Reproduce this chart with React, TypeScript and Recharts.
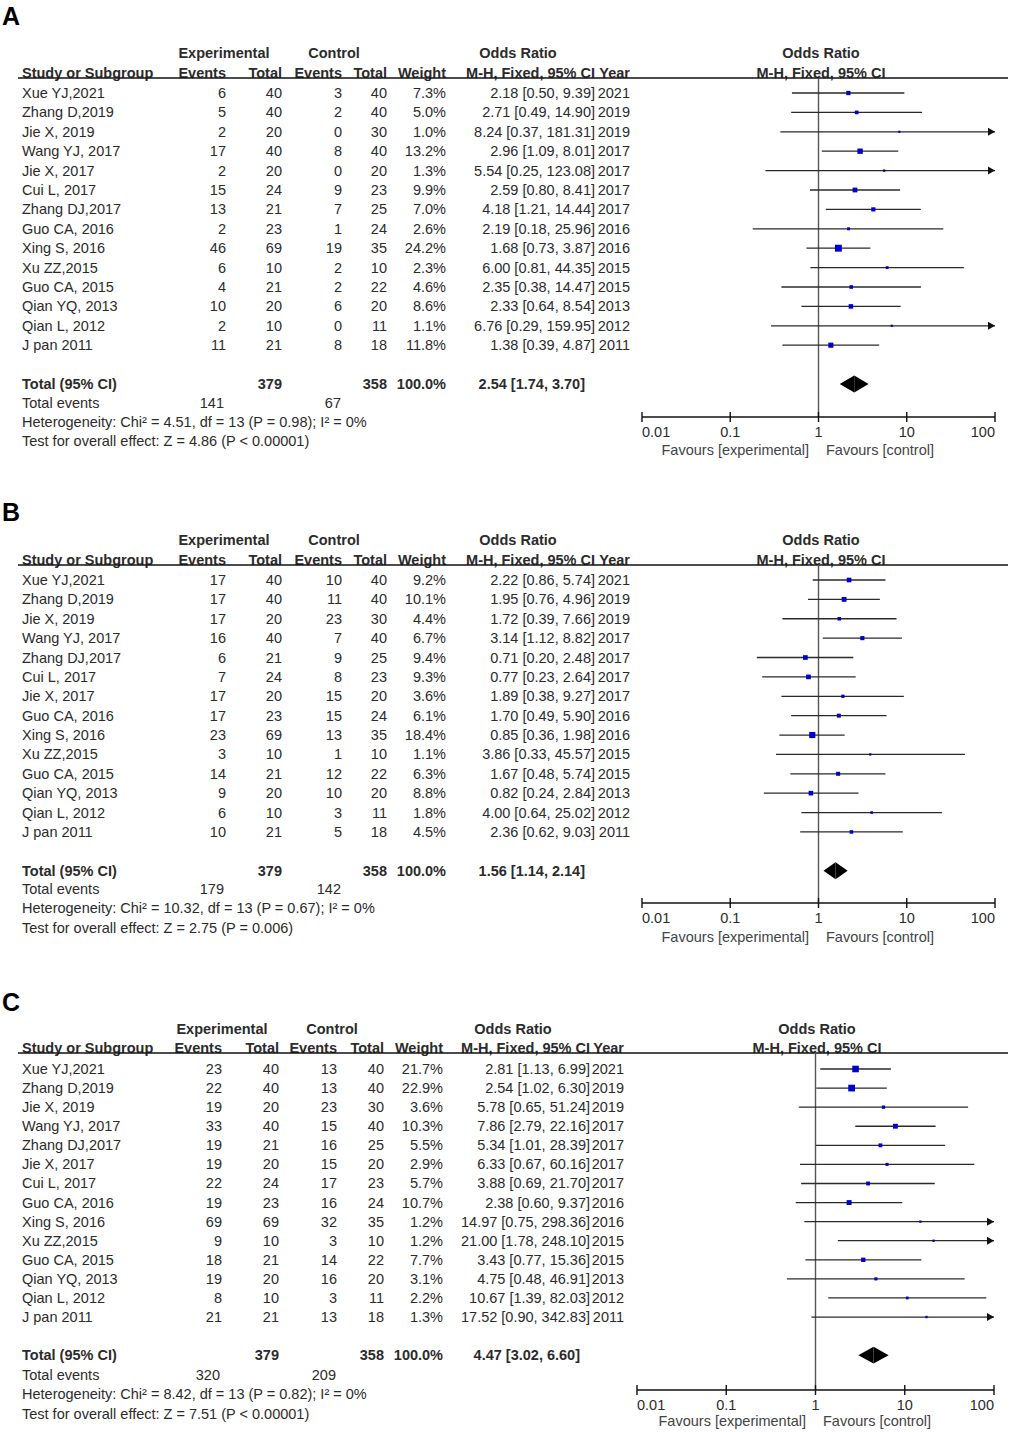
import React from 'react';
import { ScatterChart, Scatter, XAxis, YAxis, ReferenceLine, ReferenceArea } from 'recharts';

const FONT = '"Liberation Sans", Arial, Helvetica, sans-serif';
const TXT = '#2b2b2b';
const FS = 14.5;

// x axis of every forest plot
const xTicks = [0.01, 0.1, 1, 10, 100];
const xTickLabels = ['0.01', '0.1', '1', '10', '100'];

// ---------- panel A ----------
const studiesA = ['Xue YJ,2021', 'Zhang D,2019', 'Jie X, 2019', 'Wang YJ, 2017', 'Jie X, 2017', 'Cui L, 2017', 'Zhang DJ,2017', 'Guo CA, 2016', 'Xing S, 2016', 'Xu ZZ,2015', 'Guo CA, 2015', 'Qian YQ, 2013', 'Qian L, 2012', 'J pan 2011'];
const expEventsA = [6, 5, 2, 17, 2, 15, 13, 2, 46, 6, 4, 10, 2, 11];
const expTotalA = [40, 40, 20, 40, 20, 24, 21, 23, 69, 10, 21, 20, 10, 21];
const ctlEventsA = [3, 2, 0, 8, 0, 9, 7, 1, 19, 2, 2, 6, 0, 8];
const ctlTotalA = [40, 40, 30, 40, 20, 23, 25, 24, 35, 10, 22, 20, 11, 18];
const weightA = [7.3, 5.0, 1.0, 13.2, 1.3, 9.9, 7.0, 2.6, 24.2, 2.3, 4.6, 8.6, 1.1, 11.8];
const orA = [2.18, 2.71, 8.24, 2.96, 5.54, 2.59, 4.18, 2.19, 1.68, 6.00, 2.35, 2.33, 6.76, 1.38];
const loA = [0.50, 0.49, 0.37, 1.09, 0.25, 0.80, 1.21, 0.18, 0.73, 0.81, 0.38, 0.64, 0.29, 0.39];
const hiA = [9.39, 14.90, 181.31, 8.01, 123.08, 8.41, 14.44, 25.96, 3.87, 44.35, 14.47, 8.54, 159.95, 4.87];
const yearsA = [2021, 2019, 2019, 2017, 2017, 2017, 2017, 2016, 2016, 2015, 2015, 2013, 2012, 2011];
const totalA = [379, 358]; // exp total, control total
const totalOrA = [2.54, 1.74, 3.70];
const totalEventsA = [141, 67];
const hetA = 'Heterogeneity: Chi² = 4.51, df = 13 (P = 0.98); I² = 0%';
const testA = 'Test for overall effect: Z = 4.86 (P < 0.00001)';

// ---------- panel B ----------
const studiesB = ['Xue YJ,2021', 'Zhang D,2019', 'Jie X, 2019', 'Wang YJ, 2017', 'Zhang DJ,2017', 'Cui L, 2017', 'Jie X, 2017', 'Guo CA, 2016', 'Xing S, 2016', 'Xu ZZ,2015', 'Guo CA, 2015', 'Qian YQ, 2013', 'Qian L, 2012', 'J pan 2011'];
const expEventsB = [17, 17, 17, 16, 6, 7, 17, 17, 23, 3, 14, 9, 6, 10];
const expTotalB = [40, 40, 20, 40, 21, 24, 20, 23, 69, 10, 21, 20, 10, 21];
const ctlEventsB = [10, 11, 23, 7, 9, 8, 15, 15, 13, 1, 12, 10, 3, 5];
const ctlTotalB = [40, 40, 30, 40, 25, 23, 20, 24, 35, 10, 22, 20, 11, 18];
const weightB = [9.2, 10.1, 4.4, 6.7, 9.4, 9.3, 3.6, 6.1, 18.4, 1.1, 6.3, 8.8, 1.8, 4.5];
const orB = [2.22, 1.95, 1.72, 3.14, 0.71, 0.77, 1.89, 1.70, 0.85, 3.86, 1.67, 0.82, 4.00, 2.36];
const loB = [0.86, 0.76, 0.39, 1.12, 0.20, 0.23, 0.38, 0.49, 0.36, 0.33, 0.48, 0.24, 0.64, 0.62];
const hiB = [5.74, 4.96, 7.66, 8.82, 2.48, 2.64, 9.27, 5.90, 1.98, 45.57, 5.74, 2.84, 25.02, 9.03];
const yearsB = [2021, 2019, 2019, 2017, 2017, 2017, 2017, 2016, 2016, 2015, 2015, 2013, 2012, 2011];
const totalB = [379, 358];
const totalOrB = [1.56, 1.14, 2.14];
const totalEventsB = [179, 142];
const hetB = 'Heterogeneity: Chi² = 10.32, df = 13 (P = 0.67); I² = 0%';
const testB = 'Test for overall effect: Z = 2.75 (P = 0.006)';

// ---------- panel C ----------
const studiesC = ['Xue YJ,2021', 'Zhang D,2019', 'Jie X, 2019', 'Wang YJ, 2017', 'Zhang DJ,2017', 'Jie X, 2017', 'Cui L, 2017', 'Guo CA, 2016', 'Xing S, 2016', 'Xu ZZ,2015', 'Guo CA, 2015', 'Qian YQ, 2013', 'Qian L, 2012', 'J pan 2011'];
const expEventsC = [23, 22, 19, 33, 19, 19, 22, 19, 69, 9, 18, 19, 8, 21];
const expTotalC = [40, 40, 20, 40, 21, 20, 24, 23, 69, 10, 21, 20, 10, 21];
const ctlEventsC = [13, 13, 23, 15, 16, 15, 17, 16, 32, 3, 14, 16, 3, 13];
const ctlTotalC = [40, 40, 30, 40, 25, 20, 23, 24, 35, 10, 22, 20, 11, 18];
const weightC = [21.7, 22.9, 3.6, 10.3, 5.5, 2.9, 5.7, 10.7, 1.2, 1.2, 7.7, 3.1, 2.2, 1.3];
const orC = [2.81, 2.54, 5.78, 7.86, 5.34, 6.33, 3.88, 2.38, 14.97, 21.00, 3.43, 4.75, 10.67, 17.52];
const loC = [1.13, 1.02, 0.65, 2.79, 1.01, 0.67, 0.69, 0.60, 0.75, 1.78, 0.77, 0.48, 1.39, 0.90];
const hiC = [6.99, 6.30, 51.24, 22.16, 28.39, 60.16, 21.70, 9.37, 298.36, 248.10, 15.36, 46.91, 82.03, 342.83];
const yearsC = [2021, 2019, 2019, 2017, 2017, 2017, 2017, 2016, 2016, 2015, 2015, 2013, 2012, 2011];
const totalC = [379, 358];
const totalOrC = [4.47, 3.02, 6.60];
const totalEventsC = [320, 209];
const hetC = 'Heterogeneity: Chi² = 8.42, df = 13 (P = 0.82); I² = 0%';
const testC = 'Test for overall effect: Z = 7.51 (P < 0.00001)';

const TOTAL_ROW = 15;

const panels = [
  {
    letter: 'A', studies: studiesA, expEvents: expEventsA, expTotal: expTotalA, ctlEvents: ctlEventsA, ctlTotal: ctlTotalA,
    weight: weightA, or: orA, lo: loA, hi: hiA, years: yearsA, total: totalA, totalOr: totalOrA, totalEvents: totalEventsA, het: hetA, test: testA,
  },
  {
    letter: 'B', studies: studiesB, expEvents: expEventsB, expTotal: expTotalB, ctlEvents: ctlEventsB, ctlTotal: ctlTotalB,
    weight: weightB, or: orB, lo: loB, hi: hiB, years: yearsB, total: totalB, totalOr: totalOrB, totalEvents: totalEventsB, het: hetB, test: testB,
  },
  {
    letter: 'C', studies: studiesC, expEvents: expEventsC, expTotal: expTotalC, ctlEvents: ctlEventsC, ctlTotal: ctlTotalC,
    weight: weightC, or: orC, lo: loC, hi: hiC, years: yearsC, total: totalC, totalOr: totalOrC, totalEvents: totalEventsC, het: hetC, test: testC,
  },
];

// page layout (pixels)
const colsAB = { name: 22, expEv: 226, expTot: 282, ctlEv: 342, ctlTot: 387, weight: 446, or: 595, year: 630, totOr: 585, expHdr: 224, ctlHdr: 334, orHdr: 518, fHdr: 821, favL: 809, favR: 826 };
const colsC = { name: 22, expEv: 222, expTot: 279, ctlEv: 337, ctlTot: 384, weight: 443, or: 590, year: 624, totOr: 580, expHdr: 222, ctlHdr: 332, orHdr: 513, fHdr: 817, favL: 806, favR: 823 };

const layouts = [
  { letterY: 25, h1: 53, h2: 73, line: 78, row0: 93, step: 19.4, events: 403, het: 422, test: 441, axis: 417, favY: 455, fx0: 642, fx1: 995, cols: colsAB },
  { letterY: 521, h1: 540, h2: 560, line: 565, row0: 580, step: 19.38, events: 889, het: 908, test: 928, axis: 903, favY: 942, fx0: 642, fx1: 995, cols: colsAB },
  { letterY: 1011, h1: 1029, h2: 1048, line: 1053, row0: 1069, step: 19.08, events: 1375, het: 1394, test: 1414, axis: 1390, favY: 1426, fx0: 637, fx1: 994, cols: colsC },
];

const fmtOr = (o: number, l: number, h: number) => `${o.toFixed(2)} [${l.toFixed(2)}, ${h.toFixed(2)}]`;

const T = (props: any) => (
  <text fontFamily={FONT} fontSize={FS} fill={TXT} {...props} />
);

function PanelText({ p, L }: { p: any; L: any }) {
  const c = L.cols;
  const ry = (i: number) => L.row0 + i * L.step + 5;
  const ty = ry(TOTAL_ROW);
  return (
    <g>
      <text x={2} y={L.letterY} fontFamily={FONT} fontSize={25} fontWeight="bold" fill="#000">{p.letter}</text>
      <T x={c.expHdr} y={L.h1 + 5} textAnchor="middle" fontWeight="bold">Experimental</T>
      <T x={c.ctlHdr} y={L.h1 + 5} textAnchor="middle" fontWeight="bold">Control</T>
      <T x={c.orHdr} y={L.h1 + 5} textAnchor="middle" fontWeight="bold">Odds Ratio</T>
      <T x={c.fHdr} y={L.h1 + 5} textAnchor="middle" fontWeight="bold">Odds Ratio</T>
      <T x={c.name} y={L.h2 + 5} fontWeight="bold">Study or Subgroup</T>
      <T x={c.expEv} y={L.h2 + 5} textAnchor="end" fontWeight="bold">Events</T>
      <T x={c.expTot} y={L.h2 + 5} textAnchor="end" fontWeight="bold">Total</T>
      <T x={c.ctlEv} y={L.h2 + 5} textAnchor="end" fontWeight="bold">Events</T>
      <T x={c.ctlTot} y={L.h2 + 5} textAnchor="end" fontWeight="bold">Total</T>
      <T x={c.weight} y={L.h2 + 5} textAnchor="end" fontWeight="bold">Weight</T>
      <T x={c.or} y={L.h2 + 5} textAnchor="end" fontWeight="bold">M-H, Fixed, 95% CI</T>
      <T x={c.year} y={L.h2 + 5} textAnchor="end" fontWeight="bold">Year</T>
      <T x={c.fHdr} y={L.h2 + 5} textAnchor="middle" fontWeight="bold">M-H, Fixed, 95% CI</T>
      <line x1={18} x2={1008} y1={L.line} y2={L.line} stroke="#111" strokeWidth={1.5} />

      {p.studies.map((s: string, i: number) => (
        <g key={s + i}>
          <T x={c.name} y={ry(i)}>{s}</T>
          <T x={c.expEv} y={ry(i)} textAnchor="end">{p.expEvents[i]}</T>
          <T x={c.expTot} y={ry(i)} textAnchor="end">{p.expTotal[i]}</T>
          <T x={c.ctlEv} y={ry(i)} textAnchor="end">{p.ctlEvents[i]}</T>
          <T x={c.ctlTot} y={ry(i)} textAnchor="end">{p.ctlTotal[i]}</T>
          <T x={c.weight} y={ry(i)} textAnchor="end">{p.weight[i].toFixed(1)}%</T>
          <T x={c.or} y={ry(i)} textAnchor="end">{fmtOr(p.or[i], p.lo[i], p.hi[i])}</T>
          <T x={c.year} y={ry(i)} textAnchor="end">{p.years[i]}</T>
        </g>
      ))}

      <T x={c.name} y={ty} fontWeight="bold">Total (95% CI)</T>
      <T x={c.expTot} y={ty} textAnchor="end" fontWeight="bold">{p.total[0]}</T>
      <T x={c.ctlTot} y={ty} textAnchor="end" fontWeight="bold">{p.total[1]}</T>
      <T x={c.weight} y={ty} textAnchor="end" fontWeight="bold">100.0%</T>
      <T x={c.totOr} y={ty} textAnchor="end" fontWeight="bold">{fmtOr(p.totalOr[0], p.totalOr[1], p.totalOr[2])}</T>

      <T x={c.name} y={L.events + 5}>Total events</T>
      <T x={c.expEv - 2} y={L.events + 5} textAnchor="end">{p.totalEvents[0]}</T>
      <T x={c.ctlEv - 1} y={L.events + 5} textAnchor="end">{p.totalEvents[1]}</T>
      <T x={c.name} y={L.het + 5}>{p.het}</T>
      <T x={c.name} y={L.test + 5}>{p.test}</T>

      <T x={c.favL} y={L.favY} textAnchor="end" fill="#444">Favours [experimental]</T>
      <T x={c.favR} y={L.favY} fill="#444">Favours [control]</T>
    </g>
  );
}

const renderTick = (props: any) => {
  const { x, y, payload } = props;
  const v = payload.value;
  const idx = xTicks.indexOf(v);
  const anchor = idx === 0 ? 'start' : idx === xTicks.length - 1 ? 'end' : 'middle';
  return (
    <g>
      <line x1={x} x2={x} y1={y - 5} y2={y + 5} stroke="#111" strokeWidth={1.4} />
      <text x={x} y={y + 20} textAnchor={anchor} fontFamily={FONT} fontSize={FS} fill={TXT}>
        {xTickLabels[idx]}
      </text>
    </g>
  );
};

const squareShape = (props: any) => {
  const { cx, cy, payload } = props;
  const s = 1 + 1.2 * Math.sqrt(payload.w);
  return <rect x={cx - s / 2} y={cy - s / 2} width={s} height={s} fill="#0000cc" />;
};

const arrowShape = (props: any) => {
  const { cx, cy } = props;
  return <polygon points={`${cx},${cy} ${cx - 7},${cy - 4} ${cx - 7},${cy + 4}`} fill="#111" />;
};

function Forest({ p, L }: { p: any; L: any }) {
  const rows = p.or.map((v: number, i: number) => ({ x: v, y: i, w: p.weight[i] }));
  const arrows = p.hi
    .map((h: number, i: number) => ({ x: 100, y: i, h }))
    .filter((d: any) => d.h > 100);
  const yMin = (L.line - L.row0) / L.step;
  const yMax = (L.axis - L.row0) / L.step;
  const padL = 4;
  const padR = 14;
  const W = L.fx1 - L.fx0 + padL + padR;
  const H = L.axis - L.line + 50;
  const dh = 0.44;
  const [tOr, tLo, tHi] = p.totalOr;
  return (
    <div style={{ position: 'absolute', left: L.fx0 - padL, top: L.line }}>
      <ScatterChart width={W} height={H} margin={{ top: 0, right: padR, bottom: 0, left: padL }}>
        <XAxis
          type="number"
          dataKey="x"
          scale="log"
          domain={[0.01, 100]}
          ticks={xTicks}
          interval={0}
          tickSize={0}
          tickMargin={0}
          tickLine={false}
          axisLine={{ stroke: '#111', strokeWidth: 1.4 }}
          height={50}
          tick={renderTick}
          allowDataOverflow
        />
        <YAxis type="number" dataKey="y" domain={[yMin, yMax]} reversed hide allowDataOverflow />
        <ReferenceLine x={1} stroke="#555" strokeWidth={1.4} />
        {p.lo.map((lo: number, i: number) => (
          <ReferenceLine
            key={i}
            segment={[{ x: lo, y: i }, { x: Math.min(p.hi[i], 100), y: i }]}
            stroke="#2a2a2a"
            strokeWidth={1.3}
            ifOverflow="visible"
          />
        ))}
        <ReferenceArea
          x1={tLo}
          x2={tOr}
          y1={TOTAL_ROW - dh}
          y2={TOTAL_ROW + dh}
          ifOverflow="visible"
          shape={(r: any) => (
            <polygon
              points={`${r.x},${r.y + r.height / 2} ${r.x + r.width},${r.y} ${r.x + r.width},${r.y + r.height}`}
              fill="#000"
            />
          )}
        />
        <ReferenceArea
          x1={tOr}
          x2={tHi}
          y1={TOTAL_ROW - dh}
          y2={TOTAL_ROW + dh}
          ifOverflow="visible"
          shape={(r: any) => (
            <polygon
              points={`${r.x},${r.y} ${r.x + r.width},${r.y + r.height / 2} ${r.x},${r.y + r.height}`}
              fill="#000"
            />
          )}
        />
        <Scatter data={rows} isAnimationActive={false} shape={squareShape} />
        <Scatter data={arrows} isAnimationActive={false} shape={arrowShape} />
      </ScatterChart>
    </div>
  );
}

export default function App() {
  return (
    <div style={{ position: 'absolute', left: 0, top: 0, width: 1011, height: 1432, background: '#fff' }}>
      <svg width={1011} height={1432} style={{ position: 'absolute', left: 0, top: 0 }}>
        {panels.map((p, k) => (
          <PanelText key={p.letter} p={p} L={layouts[k]} />
        ))}
      </svg>
      {panels.map((p, k) => (
        <Forest key={p.letter} p={p} L={layouts[k]} />
      ))}
    </div>
  );
}
